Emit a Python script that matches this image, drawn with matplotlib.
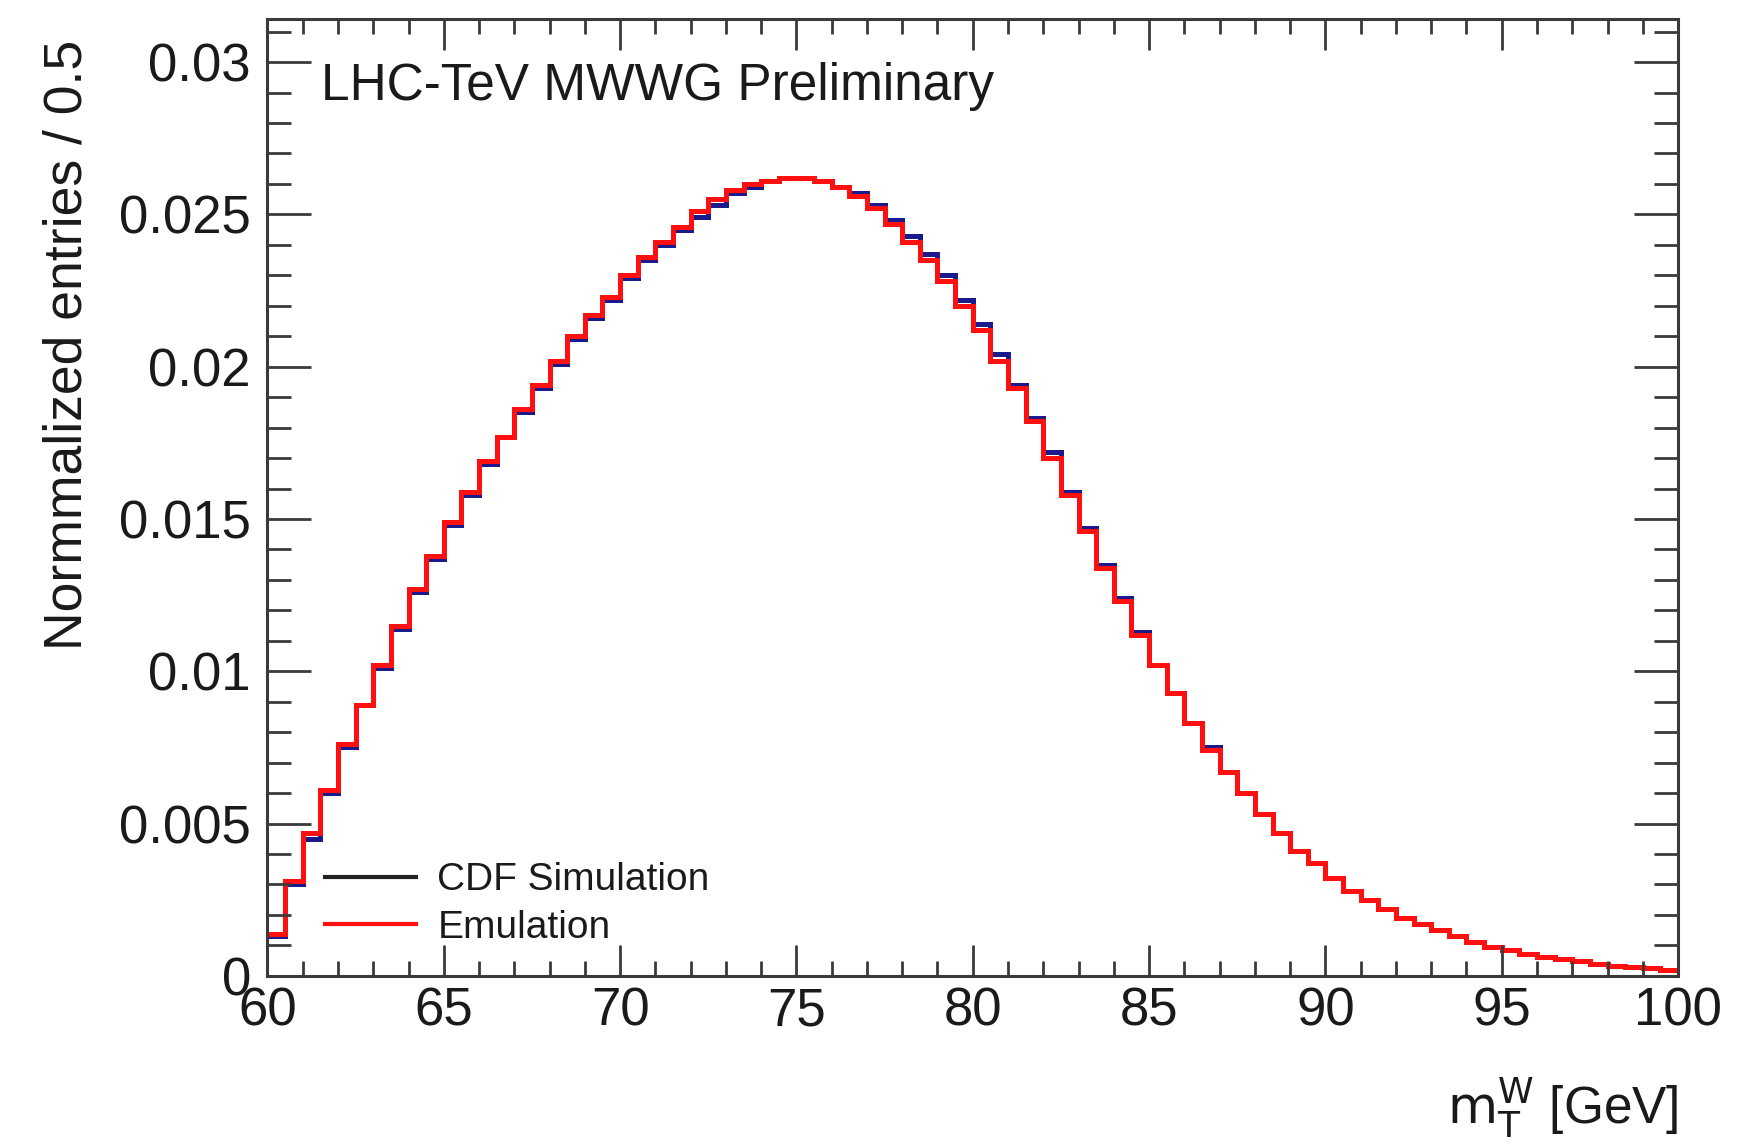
import numpy as np
import matplotlib
matplotlib.use("Agg")
import matplotlib.pyplot as plt
from matplotlib.lines import Line2D
from matplotlib.ticker import MultipleLocator

plt.rcParams["font.family"] = ["Liberation Sans", "DejaVu Sans"]

# binning: 0.5 GeV bins from 60 to 100
bin_lo, bin_hi, bin_w = 60.0, 100.0, 0.5

# CDF simulation (navy)
cdf_sim = [0.0013, 0.0030, 0.0045, 0.0060, 0.0075, 0.0089, 0.0101, 0.0114, 0.0126, 0.0137,
           0.0148, 0.0158, 0.0168, 0.0177, 0.0185, 0.0193, 0.0201, 0.0209, 0.0216, 0.0222,
           0.0229, 0.0235, 0.0240, 0.0245, 0.0249, 0.0253, 0.0257, 0.0259, 0.0261, 0.0262,
           0.0262, 0.0261, 0.0259, 0.0257, 0.0253, 0.0248, 0.0243, 0.0237, 0.0230, 0.0222,
           0.0214, 0.0204, 0.0194, 0.0183, 0.0172, 0.0159, 0.0147, 0.0135, 0.0124, 0.0113,
           0.0102, 0.0093, 0.0083, 0.0075, 0.0067, 0.0060, 0.0053, 0.0047, 0.0041, 0.0037,
           0.0032, 0.0028, 0.0025, 0.0022, 0.0019, 0.0017, 0.0015, 0.0013, 0.0011, 0.00095,
           0.00084, 0.00073, 0.00062, 0.00055, 0.00048, 0.0004, 0.00033, 0.0003, 0.00026, 0.0002]

# Emulation (red)
emulation = [0.00138, 0.0031, 0.0047, 0.0061, 0.0076, 0.0089, 0.0102, 0.0115, 0.0127, 0.0138,
             0.0149, 0.0159, 0.0169, 0.0177, 0.0186, 0.0194, 0.0202, 0.0210, 0.0217, 0.0223,
             0.0230, 0.0236, 0.0241, 0.0246, 0.0251, 0.0255, 0.0258, 0.0260, 0.0261, 0.0262,
             0.0262, 0.0261, 0.0259, 0.0256, 0.0252, 0.0247, 0.0241, 0.0235, 0.0228, 0.0220,
             0.0212, 0.0202, 0.0193, 0.0182, 0.0170, 0.0158, 0.0146, 0.0134, 0.0123, 0.0112,
             0.0102, 0.0093, 0.0083, 0.0074, 0.0067, 0.0060, 0.0053, 0.0047, 0.0041, 0.0037,
             0.0032, 0.0028, 0.0025, 0.0022, 0.0019, 0.0017, 0.0015, 0.0013, 0.0011, 0.00095,
             0.00084, 0.00073, 0.00062, 0.00055, 0.00048, 0.0004, 0.00033, 0.0003, 0.00026, 0.0002]

edges = np.arange(bin_lo, bin_hi + bin_w / 2, bin_w)

fig = plt.figure(figsize=(17.48, 11.44), dpi=100)
ax = fig.add_axes([0.153, 0.147, 0.807, 0.836])

ax.stairs(cdf_sim, edges, baseline=None, color="#1a1a8c", lw=3.6)
ax.stairs(emulation, edges, baseline=None, color="#ff1010", lw=3.6)

ax.set_xlim(bin_lo, bin_hi)
ax.set_ylim(0, 0.0314)

ax.xaxis.set_major_locator(MultipleLocator(5))
ax.xaxis.set_minor_locator(MultipleLocator(1))
ax.yaxis.set_minor_locator(MultipleLocator(0.001))
ax.set_yticks([0, 0.005, 0.01, 0.015, 0.02, 0.025, 0.03])
ax.set_yticklabels(["0", "0.005", "0.01", "0.015", "0.02", "0.025", "0.03"])

frame_col = "#3a3a3a"
for sp in ax.spines.values():
    sp.set_color(frame_col)
    sp.set_linewidth(2.2)
ax.tick_params(which="both", direction="in", top=True, right=True, colors=frame_col,
               labelcolor="#1a1a1a", labelsize=38)
ax.tick_params(axis="y", which="major", length=32, width=2, pad=12)
ax.tick_params(axis="y", which="minor", length=17, width=2)
ax.tick_params(axis="x", which="major", length=22, width=2, pad=8)
ax.tick_params(axis="x", which="minor", length=11, width=2)

ax.set_ylabel("Normmalized entries / 0.5", fontsize=38.5, color="#1a1a1a")
ax.yaxis.set_label_coords(-0.124, 0.66)
ax.text(1.0, -0.138, r"$\mathrm{m}_{\mathrm{T}}^{\mathrm{W}}$ [GeV]", transform=ax.transAxes,
        ha="right", va="center", fontsize=37, color="#1a1a1a")

ax.text(0.038, 0.930, "LHC-TeV MWWG Preliminary", transform=ax.transAxes,
        ha="left", va="center", fontsize=37, color="#1a1a1a")

handles = [Line2D([], [], color="#222222", lw=3), Line2D([], [], color="#ff1010", lw=3)]
ax.legend(handles, ["CDF Simulation", "Emulation"], loc="lower left",
          bbox_to_anchor=(0.024, 0.007), frameon=False, fontsize=28,
          handlelength=2.35, handletextpad=0.55, labelspacing=0.3,
          borderaxespad=0.2, labelcolor="#1a1a1a")

fig.savefig("out.png", dpi=100)
